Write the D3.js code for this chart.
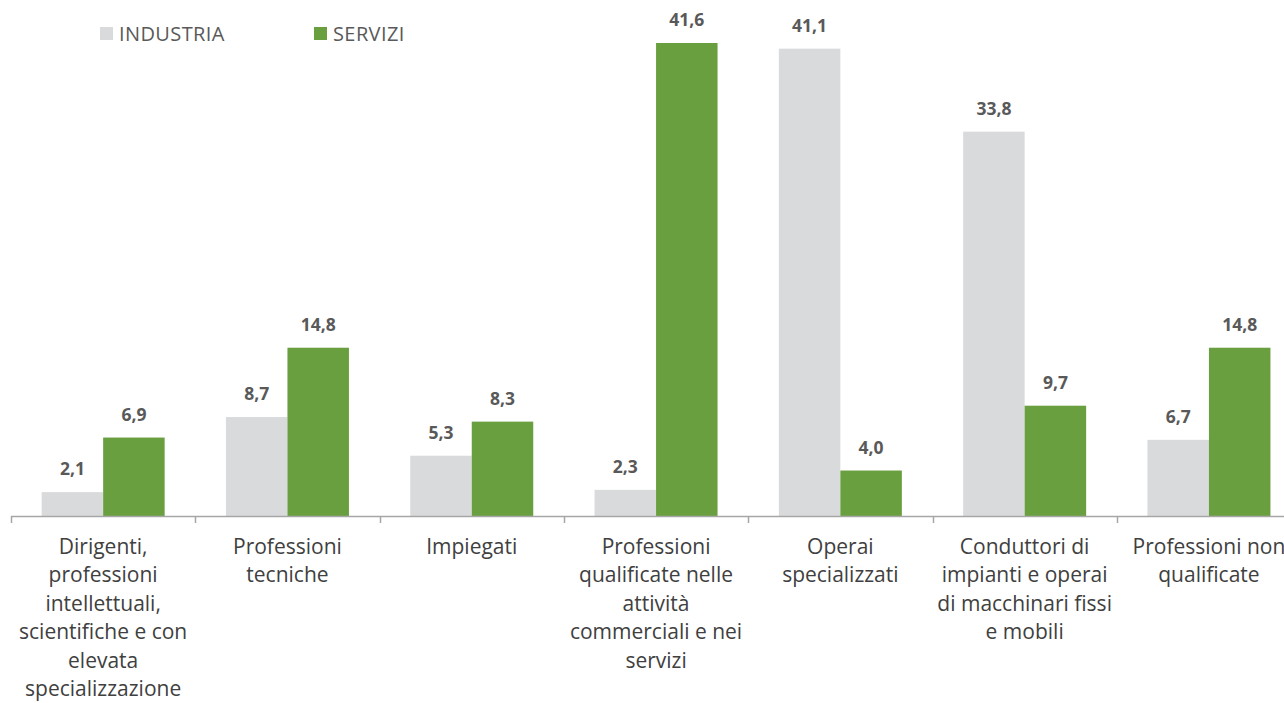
<!DOCTYPE html>
<html><head><meta charset="utf-8">
<script src="https://cdn.jsdelivr.net/npm/d3@7"></script>
<style>body{margin:0;background:#fff;} text{font-family:"Open Sans", sans-serif;}</style>
</head><body>
<svg id="c" width="1284" height="703"></svg>
<script>
const categories = [
  ["Dirigenti,","professioni","intellettuali,","scientifiche e con","elevata","specializzazione"],
  ["Professioni","tecniche"],
  ["Impiegati"],
  ["Professioni","qualificate nelle","attività","commerciali e nei","servizi"],
  ["Operai","specializzati"],
  ["Conduttori di","impianti e operai","di macchinari fissi","e mobili"],
  ["Professioni non","qualificate"]
];
const seriesNames = ["INDUSTRIA","SERVIZI"];
const industria = [2.1, 8.7, 5.3, 2.3, 41.1, 33.8, 6.7];
const servizi = [6.9, 14.8, 8.3, 41.6, 4.0, 9.7, 14.8];
const colors = ["#D9DADC","#6A9F40"];

const svg = d3.select("#c");
const x0 = 11, band = 184.3, baseY = 516;
const x = d3.scaleBand().domain(d3.range(categories.length)).range([x0, x0 + band*categories.length]).padding(0);
const xs = d3.scaleBand().domain([0,1]).range([band/2 - 61.5, band/2 + 61.5]).padding(0);
const y = d3.scaleLinear().domain([0, 41.6]).range([baseY, 43]);

const data = [industria, servizi];
const fmt = v => v.toFixed(1).replace(".", ",");

const g = svg.append("g");
categories.forEach((c, i) => {
  data.forEach((s, k) => {
    const bx = x(i) + xs(k);
    g.append("rect").attr("x", bx).attr("y", y(s[i])).attr("width", xs.bandwidth()).attr("height", baseY - y(s[i])).attr("fill", colors[k]);
    g.append("text").attr("x", bx + xs.bandwidth()/2).attr("y", y(s[i]) - 17)
      .attr("text-anchor","middle").attr("font-size", 17.5).attr("font-weight", "bold").attr("fill","#595959").text(fmt(s[i]));
  });
});

// axis
svg.append("line").attr("x1", x0).attr("x2", 1284).attr("y1", baseY+0.5).attr("y2", baseY+0.5).attr("stroke","#A6A6A6").attr("stroke-width",1.5);
d3.range(categories.length+1).forEach(i => {
  const tx = Math.round(x0 + band*i) + 0.5;
  svg.append("line").attr("x1", tx).attr("x2", tx).attr("y1", baseY).attr("y2", baseY+7).attr("stroke","#A6A6A6").attr("stroke-width",1.5);
});

// category labels
categories.forEach((lines, i) => {
  const t = svg.append("text").attr("text-anchor","middle").attr("font-size", 21).attr("fill","#404040");
  lines.forEach((l, j) => {
    t.append("tspan").attr("x", x(i) + band/2).attr("y", 554 + j*28.4).text(l);
  });
});

// legend
const leg = [{x:100, tx:119},{x:314, tx:333}];
seriesNames.forEach((n, k) => {
  svg.append("rect").attr("x", leg[k].x).attr("y", 27).attr("width", 13).attr("height", 13).attr("fill", colors[k]);
  svg.append("text").attr("x", leg[k].tx).attr("y", 40.5).attr("font-size", 20).attr("letter-spacing", 0.4).attr("fill","#595959").text(n);
});
</script>
</body></html>
